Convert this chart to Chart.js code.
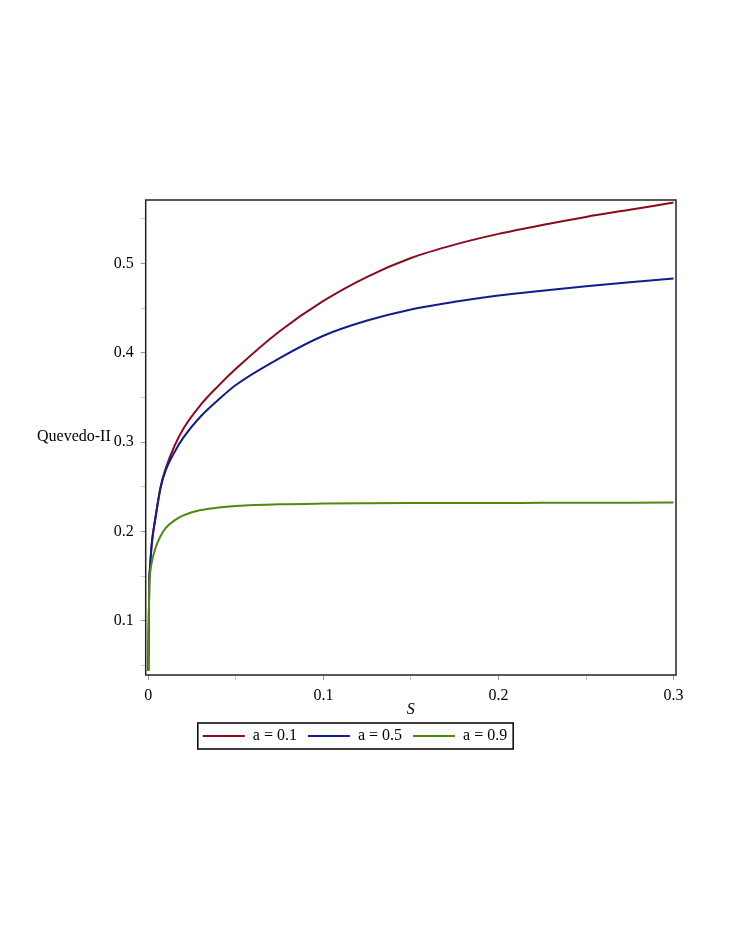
<!DOCTYPE html>
<html>
<head>
<meta charset="utf-8">
<script src="https://cdn.jsdelivr.net/npm/chart.js@4/dist/chart.umd.min.js"></script>
<style>
  html, body { margin: 0; padding: 0; background: #fff; }
  #wrap { position: relative; width: 735px; height: 952px; }
</style>
</head>
<body>
<div id="wrap"><canvas id="myChart"></canvas></div>
<script>
// values
const sValues = [0, 0.0005, 0.001, 0.002, 0.004, 0.007, 0.01, 0.015, 0.02, 0.03, 0.04, 0.05,
    0.075, 0.1, 0.125, 0.15, 0.175, 0.2, 0.225, 0.25, 0.275, 0.3];
const a01 = [0.044, 0.14, 0.16, 0.187, 0.215, 0.250, 0.271, 0.296, 0.315, 0.342, 0.363, 0.382,
    0.424, 0.458, 0.485, 0.506, 0.521, 0.533, 0.543, 0.552, 0.560, 0.568];
const a05 = [0.044, 0.14, 0.16, 0.187, 0.214, 0.249, 0.269, 0.289, 0.305, 0.329, 0.3475, 0.364,
    0.394, 0.419, 0.436, 0.4485, 0.457, 0.464, 0.4695, 0.4745, 0.479, 0.483];
const a09 = [0.044, 0.138, 0.153, 0.166, 0.181, 0.195, 0.204, 0.2125, 0.218, 0.224, 0.2268, 0.2285,
    0.2305, 0.2313, 0.2317, 0.2319, 0.232, 0.232, 0.2321, 0.2322, 0.2323, 0.2325];
const seriesLabels = ['a = 0.1', 'a = 0.5', 'a = 0.9'];
const seriesColors = ['#8B0A1E', '#0F1E8C', '#4F8A10'];

const FONT = 'Liberation Serif, Times New Roman, serif';

function toPoints(arr) {
    return arr.map((v, i) => ({ x: sValues[i], y: v }));
}

function isMajor(v) {
    return Math.round(v * 100) % 10 === 0;
}

const frame = {
    id: 'frame',
    afterDatasetsDraw(chart) {
        const { ctx, chartArea: a } = chart;
        ctx.save();
        ctx.strokeStyle = '#222';
        ctx.lineWidth = 1.5;
        ctx.strokeRect(a.left, a.top, a.right - a.left, a.bottom - a.top);
        // y label, horizontal
        ctx.fillStyle = '#000';
        ctx.font = '16px ' + FONT;
        ctx.textBaseline = 'middle';
        ctx.textAlign = 'left';
        ctx.fillText('Quevedo-II', 37, 437);
        ctx.restore();
    },
    afterDraw(chart) {
        const lg = chart.legend;
        if (!lg || !lg.legendHitBoxes.length) return;
        const hb = lg.legendHitBoxes;
        const l = Math.min(...hb.map(h => h.left)) - 5;
        const r = Math.max(...hb.map(h => h.left + h.width)) + 6;
        const t = Math.min(...hb.map(h => h.top)) - 5;
        const b = Math.max(...hb.map(h => h.top + h.height)) + 5;
        const ctx = chart.ctx;
        ctx.save();
        ctx.strokeStyle = '#000';
        ctx.lineWidth = 1.5;
        ctx.strokeRect(l, t, r - l, b - t);
        ctx.restore();
    }
};

const data = {
    datasets: [a01, a05, a09].map((arr, i) => ({
        label: seriesLabels[i],
        data: toPoints(arr),
        borderColor: seriesColors[i],
        backgroundColor: seriesColors[i],
        borderWidth: 2,
        pointRadius: 0,
        cubicInterpolationMode: 'monotone',
        order: 2 - i,
    })),
};

const config = {
    type: 'line',
    data: data,
    plugins: [frame],
    options: {
        responsive: true,
        maintainAspectRatio: false,
        animation: false,
        layout: { padding: { top: 200, left: 34, right: 59, bottom: 198 } },
        plugins: {
            legend: {
                position: 'bottom',
                labels: {
                    boxWidth: 42,
                    boxHeight: 0,
                    padding: 11,
                    color: '#000',
                    font: { family: FONT, size: 16 },
                    sort: (a, b) => a.datasetIndex - b.datasetIndex,
                },
            },
            tooltip: { enabled: false },
        },
        scales: {
            x: {
                type: 'linear',
                min: -0.0015,
                max: 0.3014,
                afterFit: (s) => { s.height = 42; },
                border: { display: false },
                grid: {
                    drawOnChartArea: false,
                    tickLength: 5,
                    tickColor: (c) => (c.tick && isMajor(c.tick.value) ? '#999' : '#ccc'),
                },
                ticks: {
                    stepSize: 0.05,
                    includeBounds: false,
                    maxRotation: 0,
                    autoSkip: false,
                    padding: 6,
                    color: '#000',
                    font: { family: FONT, size: 16 },
                    callback: (v) => (isMajor(v) ? (Math.round(v * 10) / 10).toString() : ''),
                },
                title: {
                    display: true,
                    text: 'S',
                    color: '#000',
                    font: { family: FONT, size: 16, style: 'italic' },
                    padding: { top: 0, bottom: -2 },
                },
            },
            y: {
                min: 0.0395,
                max: 0.5709,
                afterFit: (s) => { s.width = 111.7; },
                border: { display: false },
                grid: {
                    drawOnChartArea: false,
                    tickLength: 5,
                    tickColor: (c) => (c.tick && isMajor(c.tick.value) ? '#999' : '#ccc'),
                },
                ticks: {
                    stepSize: 0.05,
                    includeBounds: false,
                    autoSkip: false,
                    padding: 7,
                    color: '#000',
                    font: { family: FONT, size: 16 },
                    callback: (v) => (isMajor(v) ? (Math.round(v * 10) / 10).toString() : ''),
                },
            },
        },
    },
};

new Chart(document.getElementById('myChart'), config);
</script>
</body>
</html>
